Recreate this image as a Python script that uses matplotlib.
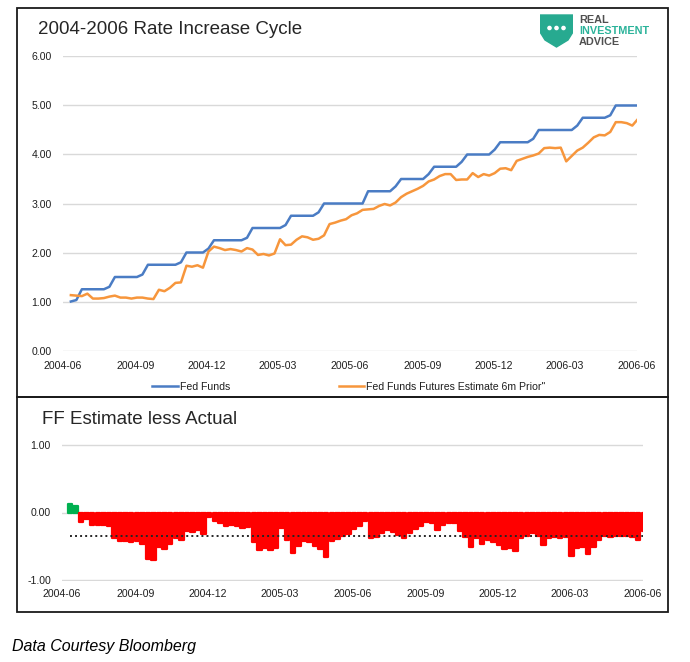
import numpy as np
import pandas as pd
import matplotlib
matplotlib.use("Agg")
import matplotlib.pyplot as plt
import matplotlib.dates as mdates
from matplotlib.patches import Rectangle, Polygon, Circle

plt.rcParams['font.family'] = ['Liberation Sans', 'DejaVu Sans']

# weekly observations, Friday closes
start_date = "2004-06-11"
n_weeks = 104

fed_funds = [
    1.00, 1.03, 1.25, 1.25, 1.25, 1.25, 1.25, 1.30, 1.50, 1.50,
    1.50, 1.50, 1.50, 1.55, 1.75, 1.75, 1.75, 1.75, 1.75, 1.75,
    1.80, 2.00, 2.00, 2.00, 2.00, 2.08, 2.25, 2.25, 2.25, 2.25,
    2.25, 2.25, 2.30, 2.50, 2.50, 2.50, 2.50, 2.50, 2.50, 2.56,
    2.75, 2.75, 2.75, 2.75, 2.75, 2.82, 3.00, 3.00, 3.00, 3.00,
    3.00, 3.00, 3.00, 3.00, 3.25, 3.25, 3.25, 3.25, 3.25, 3.35,
    3.50, 3.50, 3.50, 3.50, 3.50, 3.60, 3.75, 3.75, 3.75, 3.75,
    3.75, 3.85, 4.00, 4.00, 4.00, 4.00, 4.00, 4.10, 4.25, 4.25,
    4.25, 4.25, 4.25, 4.25, 4.32, 4.50, 4.50, 4.50, 4.50, 4.50,
    4.50, 4.50, 4.59, 4.75, 4.75, 4.75, 4.75, 4.75, 4.80, 5.00,
    5.00, 5.00, 5.00, 5.00,
]

ff_futures_6m = [
    1.13, 1.12, 1.11, 1.16, 1.06, 1.06, 1.07, 1.10, 1.12, 1.08,
    1.08, 1.06, 1.08, 1.08, 1.06, 1.05, 1.24, 1.21, 1.28, 1.38,
    1.39, 1.73, 1.71, 1.74, 1.69, 2.02, 2.12, 2.09, 2.05, 2.07,
    2.05, 2.02, 2.09, 2.06, 1.95, 1.97, 1.94, 1.98, 2.27, 2.15,
    2.16, 2.26, 2.33, 2.31, 2.26, 2.28, 2.35, 2.58, 2.61, 2.65,
    2.68, 2.76, 2.80, 2.87, 2.88, 2.89, 2.95, 2.99, 2.96, 3.02,
    3.13, 3.20, 3.25, 3.30, 3.36, 3.45, 3.49, 3.56, 3.60, 3.60,
    3.48, 3.49, 3.49, 3.62, 3.54, 3.60, 3.57, 3.62, 3.71, 3.72,
    3.68, 3.87, 3.91, 3.95, 3.98, 4.02, 4.13, 4.14, 4.13, 4.14,
    3.86, 3.97, 4.08, 4.14, 4.24, 4.35, 4.40, 4.39, 4.46, 4.66,
    4.66, 4.64, 4.59, 4.72,
]

x_ticks_months = [3, 6, 9, 12]
x_start, x_end = "2004-06-01", "2006-06-01"

dates = pd.date_range(start_date, periods=n_weeks, freq="7D")
fed = np.array(fed_funds)
fut = np.array(ff_futures_6m)
diff = fut - fed
avg_diff = diff.mean()

W, H = 690, 662
fig = plt.figure(figsize=(W / 100, H / 100), dpi=100)


def fx(px):
    return px / W


def fy(py):
    return 1 - py / H


def style_axis(ax, ymin, ymax, ystep, pad_x):
    ax.set_xlim(pd.Timestamp(x_start), pd.Timestamp(x_end))
    ax.set_ylim(ymin - 0.01 * ystep, ymax + 0.01 * ystep)
    ax.set_yticks(np.arange(ymin, ymax + 0.001, ystep))
    ax.yaxis.set_major_formatter(plt.FuncFormatter(lambda v, p: f"{v:.2f}"))
    ax.xaxis.set_major_locator(mdates.MonthLocator(bymonth=x_ticks_months))
    ax.xaxis.set_major_formatter(mdates.DateFormatter("%Y-%m"))
    ax.grid(axis="y", color="#d9d9d9", linewidth=1)
    ax.set_axisbelow(True)
    for s in ax.spines.values():
        s.set_visible(False)
    ax.tick_params(axis="both", length=0, labelsize=7.6, colors="#1f1f1f")
    ax.tick_params(axis="y", pad=8)
    ax.tick_params(axis="x", pad=pad_x)


# top panel
ax1 = fig.add_axes([fx(63), fy(351), fx(637) - fx(63), fy(56) - fy(351)])
ax1.plot(dates, fed, color="#4a7cc4", linewidth=1.8, label="Fed Funds")
ax1.plot(dates, fut, color="#f7963c", linewidth=1.8,
         label="Fed Funds Futures Estimate 6m Prior\"")
style_axis(ax1, 0, 6, 1, 7)
ax1.legend(loc="center", bbox_to_anchor=(fx(349), fy(387)),
           bbox_transform=fig.transFigure, ncol=2, frameon=False,
           fontsize=7.6, handlelength=2.4, handletextpad=0.2,
           columnspacing=10.3, labelcolor="#1f1f1f")

# bottom panel
ax2 = fig.add_axes([fx(62), fy(581), fx(643) - fx(62), fy(444) - fy(581)])
colors = ["#00b050" if d > 0 else "#ff0000" for d in diff]
bars = ax2.bar(dates, diff, width=5.5, color=colors, edgecolor=colors,
               linewidth=1.6)
for b in bars:
    b.set_joinstyle("round")
ax2.plot([dates[0], dates[-1]], [avg_diff, avg_diff], color="#262626",
         linestyle=(0, (1, 1.6)), linewidth=1.4)
style_axis(ax2, -1, 1, 1, 6)

# titles
fig.text(fx(38), fy(30), "2004-2006 Rate Increase Cycle", fontsize=13.5,
         color="#262626", va="center")
fig.text(fx(42), fy(419), "FF Estimate less Actual", fontsize=13.5,
         color="#262626", va="center")
fig.text(fx(12), fy(646), "Data Courtesy Bloomberg", fontsize=11.5,
         style="italic", color="black", va="center")

# panel frames
for top, bottom in [(8, 397), (397, 612)]:
    fig.add_artist(Rectangle((fx(17), fy(bottom)), fx(668) - fx(17),
                             fy(top) - fy(bottom), transform=fig.transFigure,
                             fill=False, edgecolor="#1a1a1a", linewidth=1.3))

# logo
lax = fig.add_axes([fx(540), fy(48), fx(573) - fx(540), fy(14) - fy(48)])
lax.set_xlim(0, 33)
lax.set_ylim(34, 0)
lax.axis("off")
lax.add_patch(Polygon([(0, 1), (33, 1), (33, 18), (28, 26), (16.5, 33),
                       (5, 26), (0, 18)], closed=True, color="#27aa90"))
for cx in [9.5, 16.5, 23.5]:
    lax.add_patch(Circle((cx, 14), 1.6, color="white"))
fig.text(fx(579), fy(20), "REAL", fontsize=7.8, fontweight="bold",
         color="#505050", va="center")
fig.text(fx(579), fy(31), "INVESTMENT", fontsize=7.8, fontweight="bold",
         color="#2bb39a", va="center")
fig.text(fx(579), fy(42), "ADVICE", fontsize=7.8, fontweight="bold",
         color="#505050", va="center")

fig.savefig("out.png", dpi=100)
